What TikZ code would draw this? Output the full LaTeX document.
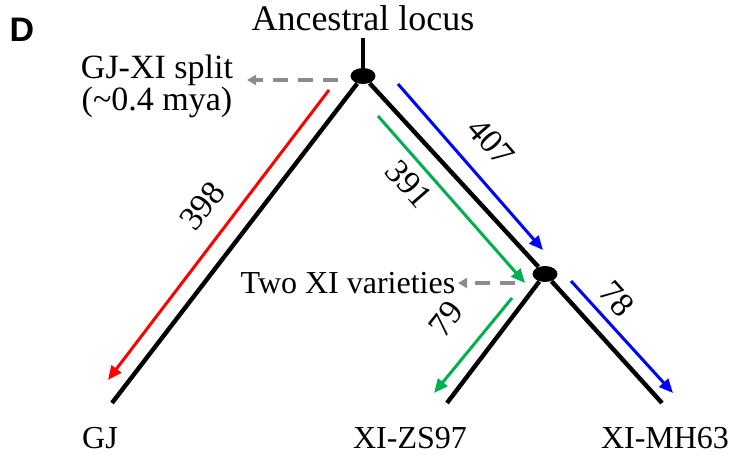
\documentclass[tikz,border=0pt]{standalone}
\usepackage{fontspec}
\setmainfont{Liberation Serif}
\newfontfamily\panelfont{Liberation Sans}
\usetikzlibrary{arrows.meta,shapes.geometric}
\definecolor{clrRed}{RGB}{255,0,0}
\definecolor{clrBlue}{RGB}{0,0,255}
\definecolor{clrGreen}{RGB}{0,176,80}
\definecolor{clrGray}{RGB}{140,140,140}
\tikzset{
  branch/.style={line width=2.2pt,color=black},
  splitdot/.style={ellipse,fill=black,inner sep=0pt,minimum width=12.5pt,minimum height=8pt},
  mutarrow/.style={-{Triangle[length=7pt,width=6pt]},line width=1.5pt},
  pointer/.style={-{Triangle[length=4.5pt,width=5pt]},line width=2pt,color=clrGray,
    dash pattern=on 7.5pt off 5pt},
  note/.style={font=\fontsize{17}{16}\selectfont,align=center,inner sep=1pt},
  countlbl/.style={font=\fontsize{17}{17}\selectfont,inner sep=0pt},
  taxon/.style={font=\fontsize{16}{16}\selectfont,anchor=base,inner sep=0pt}
}

\begin{document}
\begin{tikzpicture}[x=0.5pt,y=-0.5pt]
  \useasboundingbox (0,0) rectangle (730,455);

  \node[font=\panelfont\bfseries\fontsize{17}{17}\selectfont] (panel) at (22,30) {D};

  \node[taxon,font=\fontsize{18}{18}\selectfont] (ancestral) at (363,31) {Ancestral locus};
  \node[note] (gjxi) at (157,86) {GJ-XI split\\(\textasciitilde0.4 mya)};
  \node[note,font=\fontsize{16}{16}\selectfont] (twoxi) at (348,283) {Two XI varieties};

  \node[splitdot] (root) at (363,76) {};
  \node[splitdot] (xi) at (545,274) {};

  \coordinate (top) at (363,38);
  \coordinate (gj) at (112,403);
  \coordinate (zs) at (447,403);
  \coordinate (mh) at (662,403);

  \node[taxon] (gjname) at (100,448) {GJ};
  \node[taxon] (zsname) at (410,448) {XI-ZS97};
  \node[taxon] (mhname) at (665,448) {XI-MH63};

  \draw[branch] (top) -- (root);
  \draw[branch] (root) -- (gj);
  \draw[branch] (root) -- (xi);
  \draw[branch] (xi) -- (zs);
  \draw[branch] (xi) -- (mh);

  \coordinate (splitfrom) at (338,80);
  \coordinate (splitto) at (247,80);
  \coordinate (varfrom) at (515,283);
  \coordinate (varto) at (458,283);
  \draw[pointer] (splitfrom) -- (splitto);
  \draw[pointer] (varfrom) -- (varto);

  \coordinate (r1) at (329,90);
  \coordinate (r2) at (108,380);
  \coordinate (b1) at (398,84);
  \coordinate (b2) at (543,250);
  \coordinate (g1) at (378,116);
  \coordinate (g2) at (525,283);
  \coordinate (g3) at (512,298);
  \coordinate (g4) at (434,393);
  \coordinate (b3) at (571,281);
  \coordinate (b4) at (673,393);

  \draw[mutarrow,clrRed] (r1) -- (r2);
  \draw[mutarrow,clrBlue] (b1) -- (b2);
  \draw[mutarrow,clrGreen] (g1) -- (g2);
  \draw[mutarrow,clrGreen] (g3) -- (g4);
  \draw[mutarrow,clrBlue] (b3) -- (b4);

  \node[countlbl,rotate=52] (n398) at (202,206) {398};
  \node[countlbl,rotate=-49] (n407) at (491,142) {407};
  \node[countlbl,rotate=-49] (n391) at (409,184) {391};
  \node[countlbl,rotate=52] (n79) at (446,319) {79};
  \node[countlbl,rotate=-48] (n78) at (617,299) {78};
\end{tikzpicture}
\end{document}
